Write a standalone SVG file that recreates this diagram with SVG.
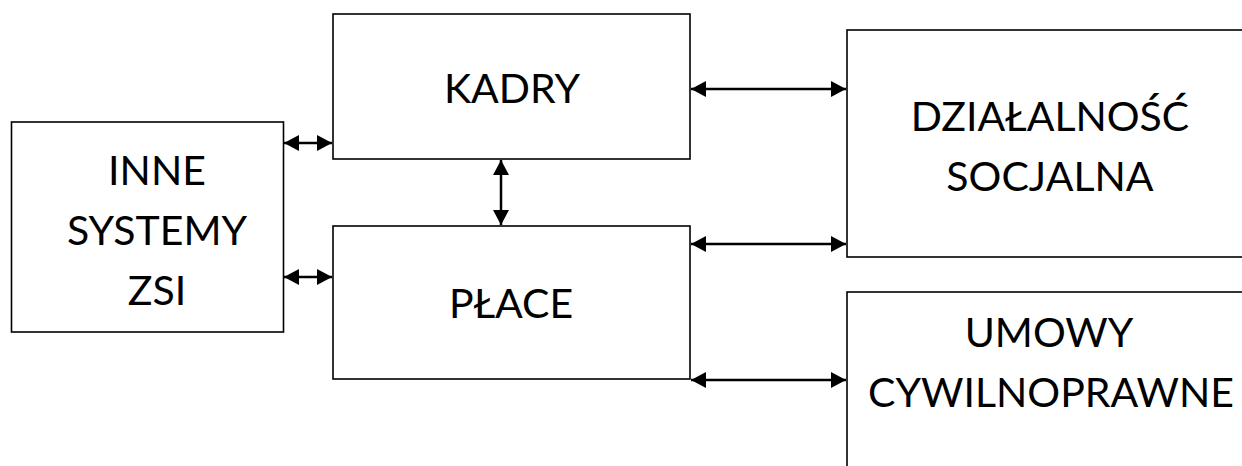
<svg xmlns="http://www.w3.org/2000/svg" width="1242" height="466" viewBox="0 0 1242 466">
  <style>
    .box { fill: #ffffff; stroke: #000000; stroke-width: 1.6; }
    .lbl { font-family: "Lato", "Liberation Sans", sans-serif; font-size: 41px; fill: #000000; text-anchor: middle; }
    .conn { stroke: #000000; stroke-width: 2.5; fill: none; marker-start: url(#ah); marker-end: url(#ah); }
  </style>
  <defs>
    <marker id="ah" markerUnits="userSpaceOnUse" markerWidth="16" markerHeight="17" refX="15" refY="8.5" orient="auto-start-reverse">
      <path d="M0,0.5 L15,8.5 L0,16.5 z" fill="#000000"/>
    </marker>
  </defs>
  <rect width="1242" height="466" fill="#ffffff"/>
  <g id="inne">
    <rect class="box" x="11.5" y="122" width="272" height="210"/>
    <text class="lbl" x="157" y="185">INNE</text>
    <text class="lbl" x="157" y="245">SYSTEMY</text>
    <text class="lbl" x="157" y="305">ZSI</text>
  </g>
  <g id="kadry">
    <rect class="box" x="333" y="14" width="357" height="145"/>
    <text class="lbl" x="512" y="103">KADRY</text>
  </g>
  <g id="place">
    <rect class="box" x="333" y="226" width="357" height="153"/>
    <text class="lbl" x="511" y="318">PŁACE</text>
  </g>
  <g id="dzialalnosc">
    <rect class="box" x="847" y="30" width="420" height="227"/>
    <text class="lbl" x="1050" y="131">DZIAŁALNOŚĆ</text>
    <text class="lbl" x="1050" y="191">SOCJALNA</text>
  </g>
  <g id="umowy">
    <rect class="box" x="847" y="292" width="420" height="200"/>
    <text class="lbl" x="1049" y="347">UMOWY</text>
    <text class="lbl" x="1051" y="407">CYWILNOPRAWNE</text>
  </g>
  <g id="connectors">
    <line class="conn" x1="284" y1="143" x2="332" y2="143"/>
    <line class="conn" x1="284" y1="277" x2="332" y2="277"/>
    <line class="conn" x1="501" y1="160" x2="501" y2="225"/>
    <line class="conn" x1="691" y1="89" x2="846" y2="89"/>
    <line class="conn" x1="691" y1="244" x2="846" y2="244"/>
    <line class="conn" x1="691" y1="380" x2="846" y2="380"/>
  </g>
</svg>
